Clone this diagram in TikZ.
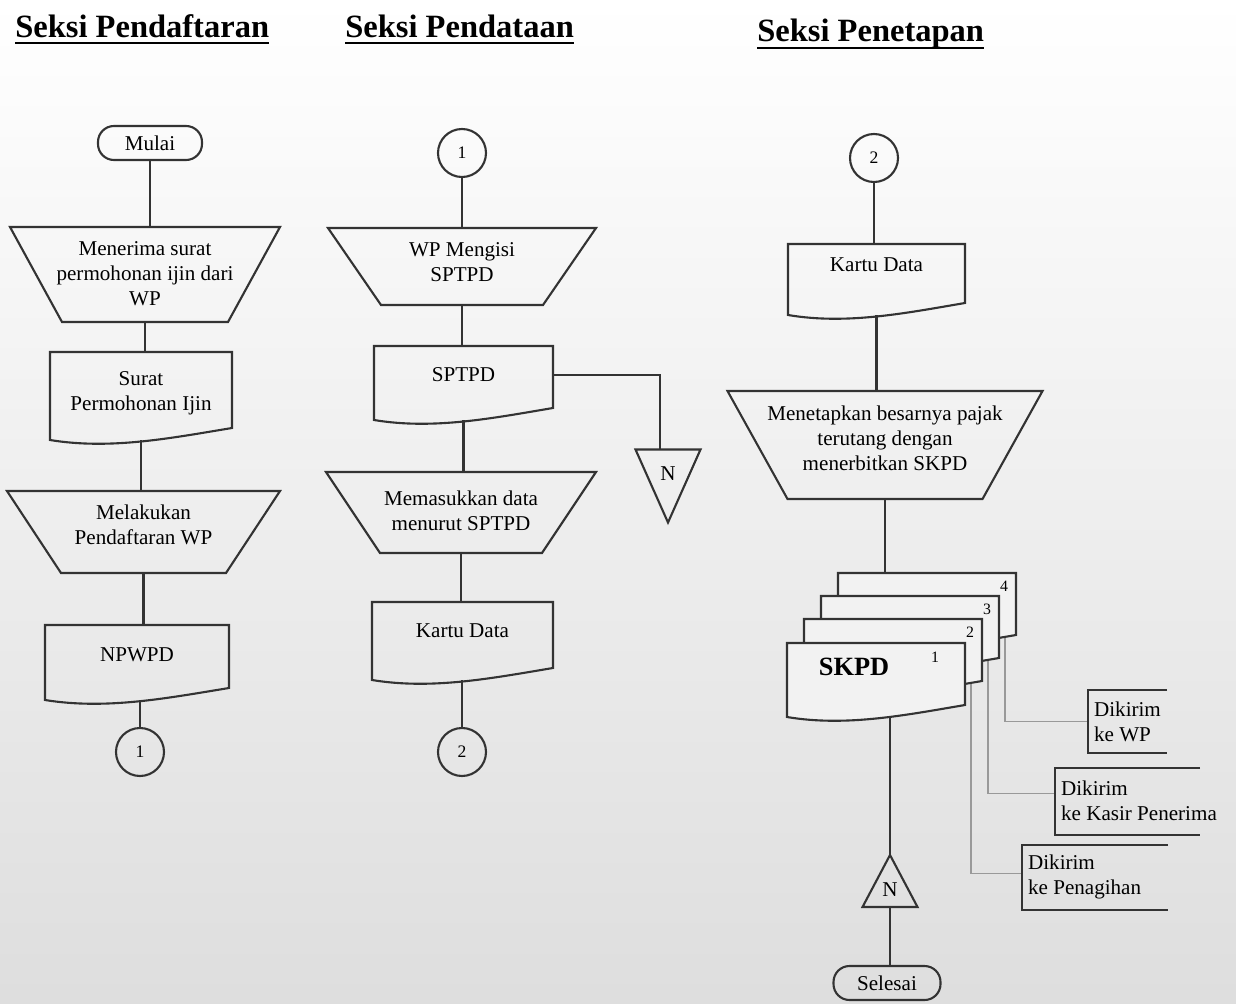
\documentclass[tikz,border=0pt]{standalone}
\usepackage{fontspec}
\setmainfont{Liberation Serif}
\usetikzlibrary{calc}
\newcommand\trapz[2]{\draw[ln] (#1.north west) -- (#1.north east) -- ($(#1.south east)+(-#2,0)$) -- ($(#1.south west)+(#2,0)$) -- cycle;}
\newcommand\docz[2][]{\draw[ln,#1] (#2.north west) -- (#2.north east) -- ($(#2.south east)+(0,-12)$) .. controls ($(#2.south west)!0.667!(#2.south east)+(0,-2)$) and ($(#2.south west)!0.333!(#2.south east)+(0,10)$) .. (#2.south west) -- cycle;}
\newcommand\openbox[1]{\draw[ln] (#1.north east) -- (#1.north west) -- (#1.south west) -- (#1.south east);}
\begin{document}
\begin{tikzpicture}[x=0.02cm,y=-0.02cm,
  every node/.style={font=\fontsize{12}{14.2}\selectfont},
  ln/.style={line width=1.2pt, draw=black!80},
  conn/.style={line width=1.2pt, draw=black!80},
  lightconn/.style={line width=1pt, draw=black!40},
  fr/.style 2 args={inner sep=0pt, outer sep=0pt, minimum width=#1*0.02cm, minimum height=#2*0.02cm},
  txt/.style={align=center, inner sep=1pt},
  ltxt/.style={align=left, anchor=west, inner sep=1pt},
  term/.style 2 args={ln, rounded corners=0.32cm, inner sep=0pt, minimum width=#1*0.02cm, minimum height=#2*0.02cm},
  circ/.style={ln, circle, inner sep=0pt, minimum size=48*0.02cm, font=\fontsize{10}{12}\selectfont},
  title/.style={inner sep=0pt, anchor=base west, font=\fontsize{18.5}{22}\selectfont\bfseries},
  num/.style={inner sep=0pt, font=\fontsize{9}{10}\selectfont}
]
\shade[top color=white, middle color=black!6, bottom color=black!13] (0,0) rectangle (1236,1003);
\useasboundingbox (0,0) rectangle (1236,1003);

% titles
\node[title] (h1) at (15,38) {Seksi Pendaftaran};
\node[title] (h2) at (345,38) {Seksi Pendataan};
\node[title] (h3) at (757,42) {Seksi Penetapan};
\draw[line width=1.6pt] ($(h1.base west)+(0,5)$) -- ($(h1.base east)+(0,5)$);
\draw[line width=1.6pt] ($(h2.base west)+(0,5)$) -- ($(h2.base east)+(0,5)$);
\draw[line width=1.6pt] ($(h3.base west)+(0,6)$) -- ($(h3.base east)+(0,6)$);

% column 1 frames
\node[term={104}{34}] (mulai) at (150,143) {Mulai};
\node[fr={270}{95}] (t1) at (145,274.5) {};
\node[fr={182}{88}] (d1) at (141,396) {};
\node[fr={273}{82}] (t2) at (143.5,532) {};
\node[fr={184}{75}] (d2) at (137,662.5) {};
\node[circ] (c1) at (140,752) {1};

% column 2 frames
\node[circ] (c1b) at (462,153) {1};
\node[fr={268}{77}] (t3) at (462,266.5) {};
\node[fr={179}{74}] (d3) at (463.5,383) {};
\node[fr={65}{73}] (arch1) at (668,486) {};
\node[fr={270}{81}] (t4) at (461,512.5) {};
\node[fr={181}{78}] (d4) at (462.5,641) {};
\node[circ] (c2) at (462,752) {2};

% column 3 frames
\node[circ] (c2b) at (874,158) {2};
\node[fr={177}{71}] (d5) at (876.5,279.5) {};
\node[fr={315}{108}] (t5) at (885,445) {};
\node[fr={178}{74}] (s4) at (927,610) {};
\node[fr={178}{74}] (s3) at (910,633) {};
\node[fr={178}{74}] (s2) at (893,656) {};
\node[fr={178}{74}] (s1) at (876,680) {};
\node[fr={55}{52}] (arch2) at (890,881) {};
\node[term={107}{34}] (sel) at (887,983) {Selesai};
\node[fr={79}{63}] (b1) at (1127.5,721.5) {};
\node[fr={145}{67}] (b2) at (1127.5,801.5) {};
\node[fr={146}{65}] (b3) at (1095,877.5) {};

% connectors
\draw[conn] (mulai.south) -- (mulai.south |- t1.north);
\draw[conn] (t1.south) -- (t1.south |- d1.north);
\draw[conn] (d1.south) -- (d1.south |- t2.north);
\draw[conn] (t2.south) -- (t2.south |- d2.north);
\draw[conn] (d2.south -| c1.north) -- (c1.north);

\draw[conn] (c1b.south) -- (c1b.south |- t3.north);
\draw[conn] (t3.south) -- (t3.south |- d3.north);
\draw[conn] ($(d3.east)+(0,-8)$) -| ($(arch1.north)+(-8,0)$);
\draw[conn] (d3.south) -- (d3.south |- t4.north);
\draw[conn] (t4.south) -- (t4.south |- d4.north);
\draw[conn] (d4.south -| c2.north) -- (c2.north);

\draw[conn] (c2b.south) -- (c2b.south |- d5.north);
\draw[conn] (d5.south) -- (d5.south |- t5.north);
\draw[conn] (t5.south) -- (t5.south |- s4.north);
\draw[conn] (arch2.north |- s1.south) -- (arch2.north);
\draw[conn] (arch2.south) -- (arch2.south |- sel.north);
\draw[lightconn] ($(s4.south east)+(-11,-11)$) |- (b1.west);
\draw[lightconn] ($(s3.south east)+(-11,-11)$) |- ($(b2.west)+(0,-8)$);
\draw[lightconn] ($(s2.south east)+(-11,-11)$) |- ($(b3.west)+(0,-4)$);

% outlines
\trapz{t1}{52}
\docz{d1}
\trapz{t2}{54}
\docz{d2}
\trapz{t3}{53}
\docz{d3}
\draw[ln] (arch1.north west) -- (arch1.north east) -- (arch1.south) -- cycle;
\trapz{t4}{54}
\docz{d4}
\docz{d5}
\trapz{t5}{60}
\docz[fill=black!5]{s4}
\docz[fill=black!5]{s3}
\docz[fill=black!5]{s2}
\docz[fill=black!5]{s1}
\draw[ln] (arch2.south west) -- (arch2.south east) -- (arch2.north) -- cycle;
\openbox{b1}
\openbox{b2}
\openbox{b3}

% texts
\node[txt] (t1t) at (145,274) {Menerima surat\\permohonan ijin dari\\WP};
\node[txt] (d1t) at (141,393) {Surat\\Permohonan Ijin};
\node[txt] (t2t) at (143.5,525) {Melakukan\\Pendaftaran WP};
\node[txt] (d2t) at (137,655) {NPWPD};
\node[txt] (t3t) at (462,262) {WP Mengisi\\SPTPD};
\node[txt] (d3t) at (463.5,375) {SPTPD};
\node[txt] (a1t) at (668,474) {N};
\node[txt] (t4t) at (461,511) {Memasukkan data\\menurut SPTPD};
\node[txt] (d4t) at (462.5,631) {Kartu Data};
\node[txt] (d5t) at (876.5,265) {Kartu Data};
\node[txt] (t5t) at (885,438) {Menetapkan besarnya pajak\\terutang dengan\\menerbitkan SKPD};
\node[num] (n4) at ($(s4.north east)+(-12,13)$) {4};
\node[num] (n3) at ($(s3.north east)+(-12,13)$) {3};
\node[num] (n2) at ($(s2.north east)+(-12,13)$) {2};
\node[num] (n1) at (935,657) {1};
\node[inner sep=0pt, font=\fontsize{15}{17}\selectfont\bfseries] (skpdt) at (854,667) {SKPD};
\node[txt] (a2t) at (890,890) {N};
\node[ltxt] (b1t) at (1092,722) {Dikirim\\ke WP};
\node[ltxt] (b2t) at (1059,801) {Dikirim\\ke Kasir Penerima};
\node[ltxt] (b3t) at (1026,877) {Dikirim\\ke Penagihan};
\end{tikzpicture}
\end{document}
